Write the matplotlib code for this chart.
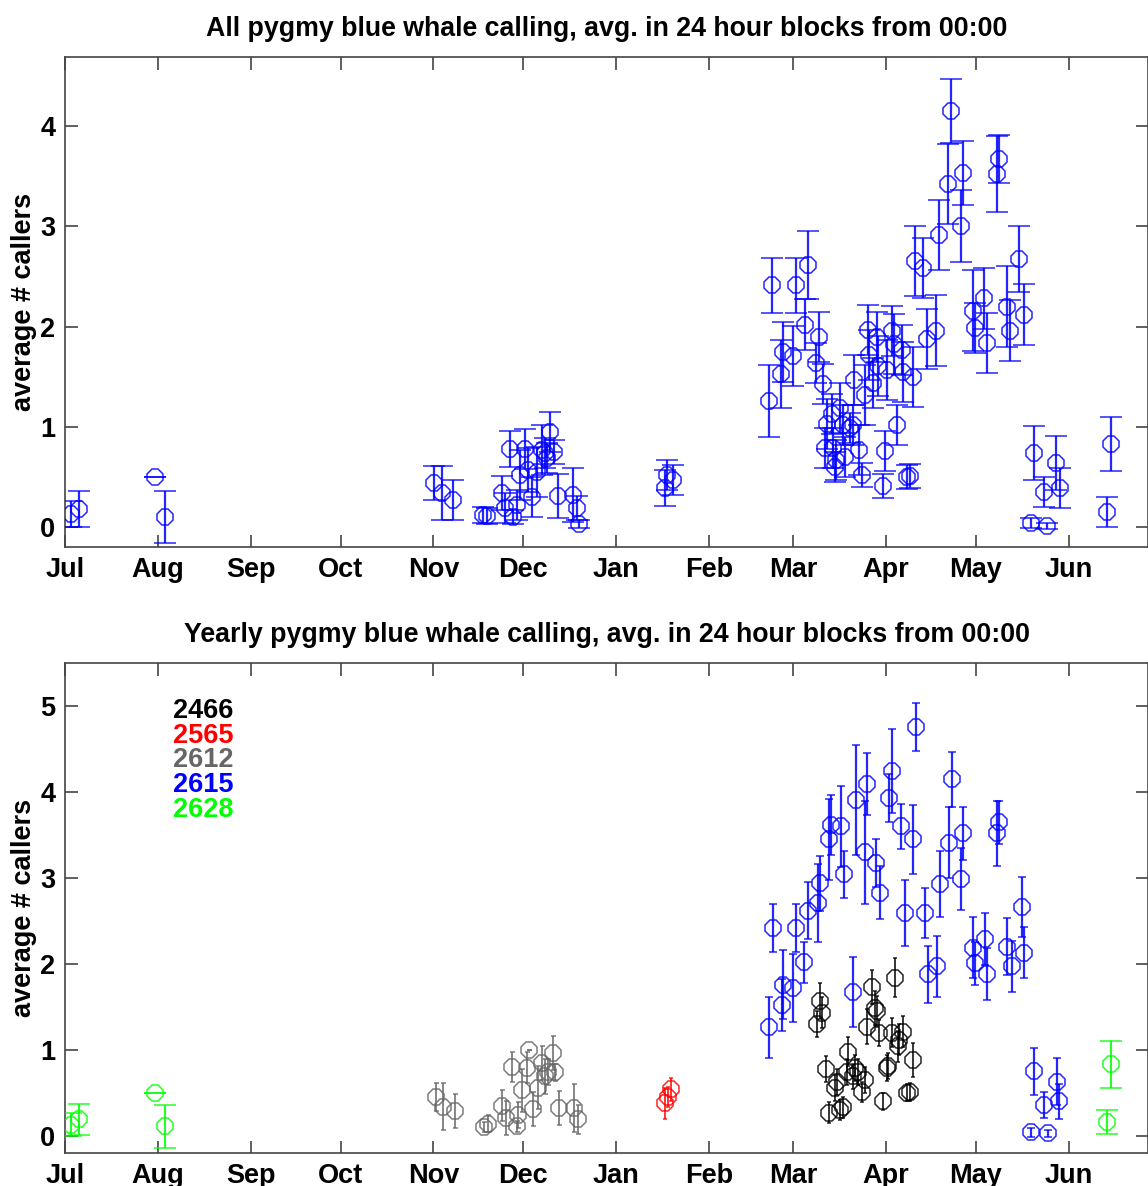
import matplotlib
matplotlib.use("Agg")
import matplotlib.pyplot as plt

plt.rcParams['font.family'] = ['Liberation Sans', 'DejaVu Sans']
plt.rcParams['font.weight'] = 'bold'

# Day offsets measured from 1 July
month_labels = ['Jul', 'Aug', 'Sep', 'Oct', 'Nov', 'Dec', 'Jan', 'Feb', 'Mar', 'Apr', 'May', 'Jun']
month_starts = [0, 31, 62, 92, 123, 153, 184, 215, 243, 274, 304, 335]

# ---- all years combined: day, mean callers, error ----
all_day = [2.0, 4.7, 30.0, 33.4, 123.1, 125.8, 129.5, 139.5, 140.8, 145.8, 146.8, 148.5,
           149.5, 150.8, 151.8, 153.5, 154.5, 155.8, 157.5, 159.2, 160.2, 160.8, 161.8,
           163.2, 164.5, 169.5, 170.8, 171.5, 200.2, 200.9, 202.9,
           234.9, 235.9, 238.9, 239.6, 242.9, 243.9, 246.9, 247.9, 250.6, 251.6, 252.9,
           253.6, 254.3, 255.9, 256.3, 256.9, 257.3, 258.6, 259.6, 260.3, 261.9, 262.9,
           263.3, 265.0, 265.9, 266.9, 267.9, 268.3, 269.6, 270.9, 271.3, 272.9, 273.6,
           274.3, 275.9, 276.6, 277.6, 279.3, 279.6, 280.9, 282.0, 283.0, 283.6, 286.3,
           287.6, 290.6, 291.6, 294.6, 295.6, 299.0, 299.6, 303.0, 303.6, 306.6, 307.6,
           311.0, 311.6, 314.6, 315.6, 318.3, 320.0, 322.6, 323.6, 326.7, 327.7, 330.7,
           332.0, 347.7, 349.0]
all_mean = [0.13, 0.18, 0.50, 0.10, 0.44, 0.34, 0.27, 0.12, 0.11, 0.34, 0.19, 0.78,
            0.10, 0.22, 0.52, 0.78, 0.57, 0.30, 0.55, 0.77, 0.74, 0.69, 0.95,
            0.75, 0.31, 0.32, 0.19, 0.03, 0.39, 0.52, 0.47,
            1.26, 2.41, 1.53, 1.75, 1.71, 2.41, 2.02, 2.61, 1.64, 1.90, 1.43,
            0.79, 1.03, 1.13, 0.79, 0.60, 0.67, 1.19, 1.02, 0.70, 0.99, 1.02,
            1.47, 0.77, 0.52, 1.32, 1.97, 1.72, 1.44, 1.90, 1.61, 0.41, 0.76,
            1.57, 1.96, 1.83, 1.02, 1.77, 1.55, 0.50, 0.51, 1.50, 2.65, 2.58,
            1.88, 1.96, 2.91, 3.42, 4.15, 3.00, 3.53, 2.16, 1.99, 2.28, 1.84,
            3.52, 3.67, 2.20, 1.96, 2.67, 2.12, 0.04, 0.74, 0.35, 0.01, 0.64,
            0.39, 0.15, 0.83]
all_err = [0.13, 0.18, 0.00, 0.26, 0.17, 0.27, 0.20, 0.08, 0.08, 0.17, 0.15, 0.18,
           0.07, 0.15, 0.25, 0.20, 0.22, 0.20, 0.25, 0.25, 0.15, 0.15, 0.20,
           0.12, 0.22, 0.27, 0.12, 0.04, 0.18, 0.15, 0.15,
           0.36, 0.27, 0.34, 0.30, 0.30, 0.27, 0.25, 0.34, 0.20, 0.25, 0.20,
           0.20, 0.25, 0.20, 0.20, 0.15, 0.20, 0.25, 0.20, 0.20, 0.15, 0.20,
           0.25, 0.25, 0.12, 0.30, 0.25, 0.25, 0.25, 0.25, 0.30, 0.12, 0.20,
           0.30, 0.25, 0.30, 0.20, 0.25, 0.30, 0.12, 0.12, 0.30, 0.35, 0.30,
           0.30, 0.35, 0.35, 0.40, 0.32, 0.36, 0.32, 0.40, 0.25, 0.30, 0.30,
           0.38, 0.24, 0.40, 0.30, 0.33, 0.30, 0.05, 0.27, 0.15, 0.03, 0.27,
           0.20, 0.15, 0.27]

# ---- per-year series ----
d2466_day = [250.9, 251.9, 252.6, 253.9, 254.9, 256.9, 257.6, 258.6, 259.6, 260.9, 261.3,
             262.9, 263.6, 264.6, 265.9, 266.9, 267.6, 269.3, 270.3, 270.9, 271.6, 272.9,
             274.3, 274.6, 275.9, 276.9, 277.9, 278.3, 279.6, 280.9, 282.0, 283.0]
d2466_mean = [1.30, 1.57, 1.43, 0.78, 0.27, 0.56, 0.63, 0.30, 0.33, 0.74, 0.98,
              0.69, 0.79, 0.74, 0.51, 0.65, 1.27, 1.73, 1.49, 1.45, 1.20, 0.40,
              0.79, 0.81, 1.20, 1.84, 1.04, 1.12, 1.21, 0.50, 0.51, 0.88]
d2466_err = [0.15, 0.21, 0.18, 0.15, 0.12, 0.15, 0.15, 0.12, 0.12, 0.15, 0.17,
             0.15, 0.15, 0.15, 0.12, 0.15, 0.20, 0.20, 0.20, 0.18, 0.15, 0.10,
             0.15, 0.15, 0.17, 0.23, 0.18, 0.18, 0.18, 0.10, 0.10, 0.20]

d2565_day = [200.2, 201.2, 202.2]
d2565_mean = [0.38, 0.45, 0.54]
d2565_err = [0.18, 0.12, 0.13]

d2612_day = [123.8, 126.1, 130.1, 139.8, 141.1, 145.8, 147.1, 149.1, 150.8, 151.1, 152.5,
             154.2, 154.8, 156.2, 157.8, 159.2, 160.2, 161.2, 162.8, 163.5, 164.8, 169.8,
             171.2]
d2612_mean = [0.45, 0.34, 0.29, 0.10, 0.14, 0.35, 0.21, 0.80, 0.11, 0.24, 0.53,
              0.79, 1.00, 0.31, 0.56, 0.85, 0.69, 0.74, 0.96, 0.74, 0.32, 0.32,
              0.19]
d2612_err = [0.16, 0.27, 0.20, 0.06, 0.10, 0.18, 0.20, 0.17, 0.06, 0.15, 0.25,
             0.18, 0.00, 0.20, 0.25, 0.20, 0.20, 0.15, 0.20, 0.10, 0.20, 0.28,
             0.17]

d2615_day = [234.9, 236.3, 239.2, 239.6, 242.9, 243.9, 246.6, 247.9, 251.3, 251.9, 254.9,
             255.6, 258.9, 259.9, 262.9, 263.9, 266.9, 267.6, 270.6, 271.9, 274.9, 275.9,
             279.0, 280.3, 283.0, 284.0, 286.9, 288.0, 291.0, 292.0, 295.0, 296.0, 299.0,
             299.6, 303.0, 303.6, 307.0, 307.6, 311.0, 311.6, 314.6, 316.0, 319.3, 320.0,
             322.6, 323.6, 326.7, 328.0, 331.0, 331.7]
d2615_mean = [1.26, 2.42, 1.52, 1.76, 1.72, 2.42, 2.02, 2.62, 2.71, 2.94, 3.45,
              3.62, 3.60, 3.04, 1.67, 3.91, 3.30, 4.09, 3.17, 2.83, 3.93, 4.24,
              3.60, 2.59, 3.45, 4.76, 2.59, 1.88, 1.97, 2.93, 3.41, 4.15, 2.99,
              3.52, 2.19, 2.01, 2.29, 1.88, 3.52, 3.65, 2.20, 1.97, 2.66, 2.13,
              0.04, 0.75, 0.36, 0.03, 0.63, 0.40]
d2615_err = [0.36, 0.28, 0.30, 0.40, 0.40, 0.28, 0.24, 0.33, 0.45, 0.32, 0.47,
             0.35, 0.47, 0.27, 0.41, 0.64, 0.60, 0.36, 0.28, 0.31, 0.28, 0.49,
             0.26, 0.38, 0.40, 0.28, 0.29, 0.33, 0.35, 0.38, 0.41, 0.32, 0.36,
             0.31, 0.35, 0.25, 0.30, 0.30, 0.38, 0.25, 0.33, 0.30, 0.35, 0.30,
             0.05, 0.27, 0.15, 0.04, 0.27, 0.20]

d2628_day = [2.0, 4.7, 30.0, 33.4, 347.7, 349.0]
d2628_mean = [0.13, 0.19, 0.50, 0.11, 0.16, 0.83]
d2628_err = [0.13, 0.18, 0.00, 0.25, 0.14, 0.27]

year_names = ['2466', '2565', '2612', '2615', '2628']
year_colors = ['#000000', '#ff0000', '#666666', '#0000ff', '#00ff00']

FIG_W, FIG_H = 1148, 1186
fig = plt.figure(figsize=(FIG_W / 100, FIG_H / 100), dpi=100)
ax1 = fig.add_axes([65 / FIG_W, 1 - 547 / FIG_H, 1 - 65 / FIG_W, 490 / FIG_H])
ax2 = fig.add_axes([65 / FIG_W, 1 - 1153 / FIG_H, 1 - 65 / FIG_W, 490 / FIG_H])

TICK_FS = 19.5
TITLE_FS = 19.3


def style_axes(ax, ymax, yticks):
    ax.set_xlim(0, 361.5)
    ax.set_ylim(-0.2, ymax)
    ax.set_xticks(month_starts)
    ax.set_xticklabels(month_labels)
    ax.set_yticks(yticks)
    ax.tick_params(axis='both', which='major', direction='in', length=9, width=1.2,
                   top=True, right=True, labelsize=TICK_FS, color='#444444', pad=7)
    for lab in ax.get_xticklabels() + ax.get_yticklabels():
        lab.set_fontweight('bold')
    for sp in ax.spines.values():
        sp.set_color('#444444')
        sp.set_linewidth(1.2)
    ax.set_ylabel('average # callers', fontsize=TICK_FS, fontweight='bold')
    ax.yaxis.set_label_coords(-0.026, 0.5)


def draw(ax, x, y, e, color, capsize, elw=1.5, mew=1.1):
    ax.errorbar(x, y, yerr=e, fmt='8', color=color, mfc='none', mec=color,
                markersize=12, mew=mew, ecolor=color, elinewidth=elw,
                capsize=capsize, capthick=elw, alpha=0.85, zorder=3)


# Upper panel: every deployment pooled
draw(ax1, all_day, all_mean, all_err, '#0000ff', capsize=7.6, elw=1.6)
style_axes(ax1, 4.69, [0, 1, 2, 3, 4])
ax1.set_title('All pygmy blue whale calling, avg. in 24 hour blocks from 00:00',
              fontsize=TITLE_FS, fontweight='bold', pad=14.8)

# Lower panel: one colour per deployment
draw(ax2, d2628_day, d2628_mean, d2628_err, year_colors[4], capsize=7.6, elw=1.5)
draw(ax2, d2612_day, d2612_mean, d2612_err, year_colors[2], capsize=1.8, elw=1.3)
draw(ax2, d2565_day, d2565_mean, d2565_err, year_colors[1], capsize=1.5, elw=1.3)
draw(ax2, d2615_day, d2615_mean, d2615_err, year_colors[3], capsize=2.6, elw=1.6)
draw(ax2, d2466_day, d2466_mean, d2466_err, year_colors[0], capsize=1.5, elw=1.3)
style_axes(ax2, 5.5, [0, 1, 2, 3, 4, 5])
ax2.set_title('Yearly pygmy blue whale calling, avg. in 24 hour blocks from 00:00',
              fontsize=TITLE_FS, fontweight='bold', pad=14.8)

for i, (name, col) in enumerate(zip(year_names, year_colors)):
    ax2.text(0.0997, 0.902 - i * 0.0504, name, color=col, fontsize=TICK_FS,
             fontweight='bold', transform=ax2.transAxes, ha='left', va='center')

fig.savefig('out.png', dpi=100)
